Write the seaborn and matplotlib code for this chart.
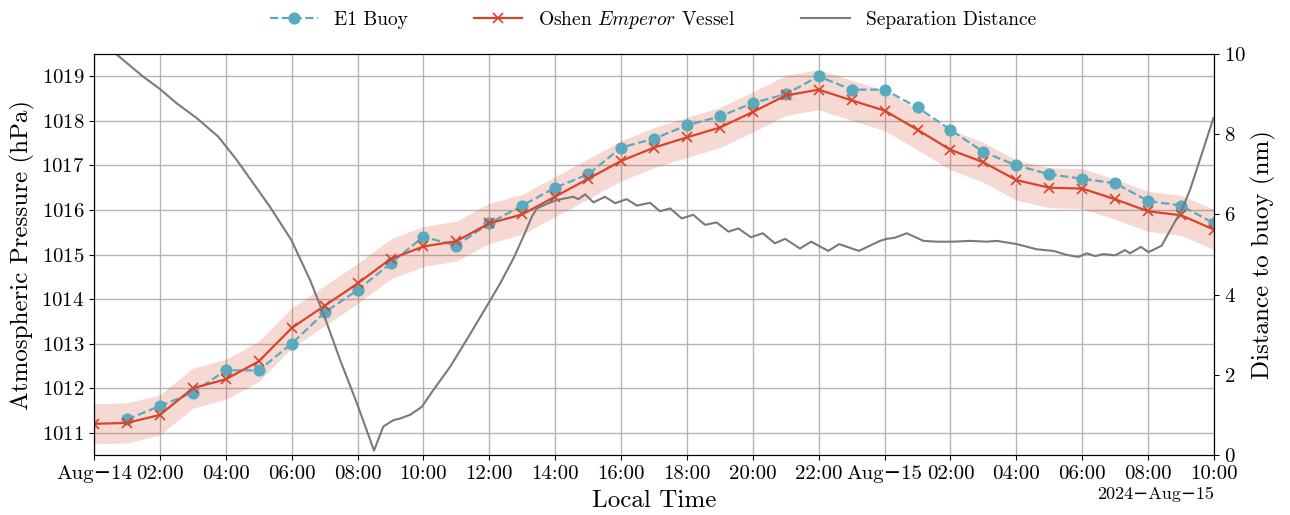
import numpy as np
import pandas as pd
import matplotlib
matplotlib.use("Agg")
import matplotlib.pyplot as plt
import matplotlib.dates as mdates
from matplotlib.ticker import MultipleLocator
import seaborn as sns

# hours since 2024-08-14 00:00 local
buoy_hours = list(range(1, 35))
buoy_hpa = [1011.3, 1011.6, 1011.9, 1012.4, 1012.4, 1013.0, 1013.7, 1014.2, 1014.8, 1015.4,
            1015.2, 1015.7, 1016.1, 1016.5, 1016.8, 1017.4, 1017.6, 1017.9, 1018.1, 1018.4,
            1018.6, 1019.0, 1018.7, 1018.7, 1018.3, 1017.8, 1017.3, 1017.0, 1016.8, 1016.7,
            1016.6, 1016.2, 1016.1, 1015.7]

vessel_hours = list(range(0, 35))
vessel_hpa = [1011.2, 1011.22, 1011.4, 1012.0, 1012.2, 1012.6, 1013.35, 1013.85, 1014.35, 1014.9,
              1015.18, 1015.3, 1015.7, 1015.9, 1016.3, 1016.7, 1017.1, 1017.4, 1017.63, 1017.85,
              1018.2, 1018.57, 1018.7, 1018.46, 1018.23, 1017.8, 1017.35, 1017.07, 1016.67, 1016.5,
              1016.48, 1016.24, 1015.97, 1015.88, 1015.56]
vessel_err = 0.45

sep_hours = [0.0, 0.64, 1.50, 1.98, 2.51, 3.12, 3.77, 4.33, 5.34, 5.99, 6.56, 6.96, 7.47, 7.98,
             8.50, 8.78, 9.09, 9.29, 9.59, 9.95, 10.30, 10.81, 11.31, 12.0, 12.33, 12.73, 13.03,
             13.29, 13.44, 13.74, 14.05,
             14.55, 14.70, 14.91, 15.16, 15.51, 15.82, 16.17, 16.48, 16.88, 17.18, 17.49, 17.84,
             18.19, 18.55, 18.90, 19.26, 19.56, 19.94, 20.30, 20.67, 20.98, 21.43, 21.77, 22.29,
             22.62, 23.22, 23.86, 24.06, 24.32, 24.67, 25.18, 25.58, 26.09, 26.59, 27.10, 27.40,
             28.01, 28.62, 29.12, 29.53, 29.88, 30.14, 30.39, 30.64, 31.00, 31.30, 31.45, 31.78,
             32.01, 32.41, 32.76, 33.02, 33.27, 33.57, 33.98]
sep_nm = [10.45, 10.02, 9.43, 9.14, 8.77, 8.40, 7.94, 7.36, 6.19, 5.36, 4.36, 3.53, 2.37, 1.29,
          0.11, 0.71, 0.87, 0.91, 1.00, 1.20, 1.62, 2.20, 2.87, 3.82, 4.28, 4.90, 5.44,
          5.94, 6.15, 6.26, 6.36,
          6.44, 6.38, 6.50, 6.30, 6.44, 6.28, 6.38, 6.22, 6.29, 6.08, 6.15, 5.90,
          5.99, 5.74, 5.80, 5.57, 5.65, 5.43, 5.53, 5.28, 5.39, 5.15, 5.32, 5.09,
          5.26, 5.09, 5.34, 5.39, 5.42, 5.53, 5.34, 5.32, 5.32, 5.34, 5.32, 5.34,
          5.26, 5.13, 5.09, 4.99, 4.94, 5.03, 4.96, 5.01, 4.98, 5.11, 5.03, 5.19,
          5.06, 5.22, 5.74, 6.11, 6.61, 7.36, 8.40]

start = pd.Timestamp("2024-08-14 00:00")
buoy_t = start + pd.to_timedelta(buoy_hours, unit="h")
vessel_t = start + pd.to_timedelta(vessel_hours, unit="h")
sep_t = start + pd.to_timedelta(sep_hours, unit="h")

c_buoy = "#5aaabe"
c_vessel = "#d9432b"
c_sep = "#7a7a7a"

plt.rcParams["font.family"] = ["cmr10", "DejaVu Serif"]
plt.rcParams["mathtext.fontset"] = "cm"
plt.rcParams["axes.unicode_minus"] = False
plt.rcParams["axes.formatter.use_mathtext"] = True

fig, ax = plt.subplots(figsize=(12.9, 5.15), dpi=100)
fig.subplots_adjust(left=0.0729, right=0.9411, top=0.8951, bottom=0.1165)

ax.fill_between(vessel_t, np.array(vessel_hpa) - vessel_err, np.array(vessel_hpa) + vessel_err,
                color=c_vessel, alpha=0.2, lw=0)
sns.lineplot(x=buoy_t, y=buoy_hpa, ax=ax, color=c_buoy, ls="--", lw=1.6, marker="o", ms=8,
             mec=c_buoy, label="E1 Buoy")
sns.lineplot(x=vessel_t, y=vessel_hpa, ax=ax, color=c_vessel, lw=1.6, marker="x", ms=7,
             mec=c_vessel, mew=1.2, label=r"Oshen $\mathit{Emperor}$ Vessel")

ax2 = ax.twinx()
sns.lineplot(x=sep_t, y=sep_nm, ax=ax2, color=c_sep, lw=1.5, label="Separation Distance")

ax.set_xlim(start, start + pd.Timedelta(hours=34))
ax.set_ylim(1010.5, 1019.5)
ax2.set_ylim(0, 10)
ax.yaxis.set_major_locator(MultipleLocator(1))
ax2.yaxis.set_major_locator(MultipleLocator(2))

loc = mdates.HourLocator(byhour=range(0, 24, 2))
fmt = mdates.ConciseDateFormatter(loc)
fmt.zero_formats = ["", "%Y", "%b", "%b\u2212%d", "%H:%M", "%H:%M"]
fmt.offset_formats = ["", "%Y", "%Y\u2212%b", "%Y\u2212%b\u2212%d", "%Y\u2212%b\u2212%d",
                      "%Y\u2212%b\u2212%d %H:%M"]
ax.xaxis.set_major_locator(loc)
ax.xaxis.set_major_formatter(fmt)

ax.grid(True, color="#b5b5b5", lw=1)
ax.set_axisbelow(True)
ax.tick_params(labelsize=15)
ax2.tick_params(labelsize=15)
ax.xaxis.get_offset_text().set_fontsize(13)

ax.set_xlabel("Local Time", fontsize=18, labelpad=5)
ax.set_ylabel("Atmospheric Pressure (hPa)", fontsize=18)
ax2.set_ylabel("Distance to buoy (nm)", fontsize=18)

h1, l1 = ax.get_legend_handles_labels()
h2, l2 = ax2.get_legend_handles_labels()
ax.get_legend().remove()
ax2.get_legend().remove()
fig.legend(h1 + h2, l1 + l2, loc="center", bbox_to_anchor=(0.506, 0.962), ncol=3,
           frameon=False, fontsize=14, columnspacing=3.4, handlelength=2.5)

fig.savefig("out.png", dpi=100)
